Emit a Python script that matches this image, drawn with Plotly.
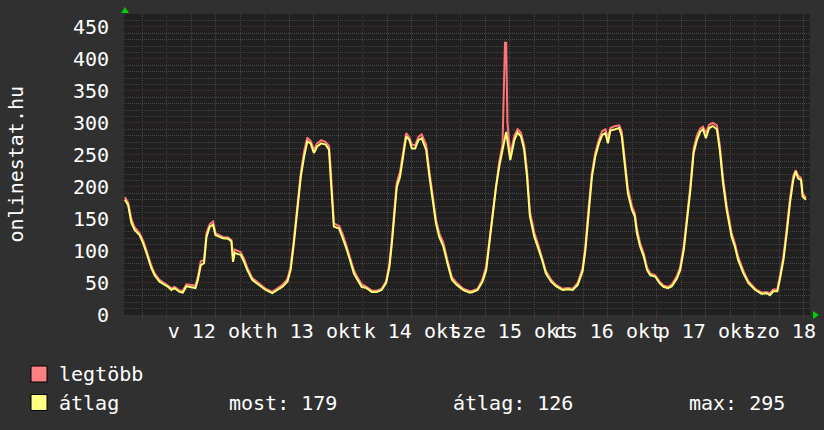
import pandas as pd
import plotly.graph_objects as go

# ---------------- data ----------------
start_time = "2008-10-11 13:30"
span_hours = 168

hours = [0.2, 1.0, 1.8, 2.6, 3.8, 4.7, 5.5, 6.7, 7.5, 8.7, 10.0, 10.8, 11.6, 12.4, 13.6, 14.4,
         15.3, 16.5, 17.5, 18.1, 18.8, 19.6, 20.2, 21.0, 21.8, 22.4, 23.4, 24.2, 25.5, 26.3, 26.7,
         27.1, 27.9, 28.6, 29.4, 30.2, 31.4, 33.1, 34.7, 36.3, 37.5, 38.8, 40.0, 40.8, 41.6, 42.4,
         43.3, 44.1, 44.9, 45.7, 46.5, 47.3, 48.3, 49.4, 50.2, 50.6, 51.4, 52.7, 53.5, 54.3, 55.1,
         56.3, 57.0, 58.2, 59.4, 60.7, 61.9, 63.1, 64.2, 65.0, 65.6, 66.1, 66.8, 67.6, 68.3, 69.1,
         69.9, 70.5, 71.3, 72.1, 72.9, 74.0, 74.8, 75.6, 76.4, 77.2, 78.2, 79.2, 80.3, 81.5, 83.1,
         84.7, 85.4, 86.6, 87.8, 88.7, 89.5, 90.3, 91.1, 91.9, 92.7, 93.0, 93.3, 93.6, 93.9, 94.6,
         95.6, 96.4, 97.2, 98.0, 98.7, 99.4, 100.5, 101.3, 102.4, 103.3, 104.6, 105.8, 107.4, 108.7,
         109.9, 111.1, 112.3, 113.0, 113.8, 114.6, 115.4, 116.3, 117.1, 117.9, 118.5, 119.1, 120.3,
         121.3, 121.9, 122.6, 123.4, 124.4, 125.1, 125.6, 126.4, 127.3, 128.1, 128.9, 130.1, 131.1,
         132.1, 133.2, 134.2, 135.4, 136.2, 137.1, 137.9, 138.7, 139.5, 140.3, 141.1, 141.8, 142.5,
         143.3, 144.2, 145.2, 145.9, 146.7, 147.6, 148.8, 149.6, 150.4, 151.7, 152.9, 154.6, 156.2,
         157.4, 158.2, 159.0, 160.0, 160.6, 161.5, 162.3, 163.1, 163.9, 164.5, 165.1, 165.8, 166.2,
         167.0]

atlag = [180, 172, 144, 133, 125, 112, 97, 73, 62, 52, 47, 44, 39, 42, 36, 35,
         45, 44, 42, 55, 78, 81, 122, 138, 141, 125, 122, 120, 119, 115, 83,
         97, 95, 94, 83, 70, 55, 47, 39, 34, 39, 44, 52, 70, 112, 164,
         216, 247, 271, 268, 253, 263, 268, 266, 258, 216, 138, 135, 122, 107, 91,
         65, 57, 44, 42, 36, 36, 39, 50, 75, 112, 154, 200, 216, 247, 279,
         273, 260, 260, 273, 276, 258, 216, 175, 143, 122, 107, 81, 55, 47, 39,
         35, 36, 39, 52, 70, 112, 154, 200, 232, 258, 270, 280, 286, 272, 242,
         273, 285, 279, 258, 216, 154, 122, 107, 86, 65, 52, 45, 39, 40,
         39, 47, 68, 102, 164, 216, 247, 268, 281, 284, 268, 288, 290,
         292, 279, 237, 190, 164, 154, 128, 107, 91, 70, 62, 60, 50,
         44, 42, 45, 57, 70, 102, 148, 195, 253, 273, 286, 290, 276,
         292, 295, 290, 258, 206, 164, 122, 107, 86, 65, 50, 39, 33,
         34, 31, 37, 37, 55, 86, 128, 175, 211, 224, 213, 211, 185,
         180]

legtobb = [184, 176, 150, 137, 128, 116, 101, 77, 65, 55, 49, 46, 42, 44, 38, 38,
           48, 47, 46, 60, 84, 86, 128, 142, 146, 128, 124, 122, 121, 117, 92,
           102, 100, 98, 88, 74, 58, 49, 41, 36, 41, 47, 56, 75, 118, 170,
           222, 255, 277, 272, 258, 268, 273, 270, 264, 230, 143, 139, 127, 112, 96,
           70, 61, 48, 44, 38, 38, 41, 53, 80, 118, 160, 207, 224, 255, 284,
           277, 266, 265, 278, 282, 266, 224, 182, 149, 128, 113, 86, 59, 50, 41,
           37, 38, 41, 56, 76, 118, 162, 207, 240, 266, 340, 425, 425, 300, 250,
           280, 290, 285, 265, 225, 162, 128, 113, 90, 69, 55, 47, 41, 42,
           41, 50, 73, 108, 170, 222, 253, 274, 287, 290, 276, 292, 295,
           296, 286, 245, 198, 170, 159, 135, 112, 96, 74, 65, 62, 53,
           46, 44, 48, 61, 75, 108, 155, 202, 260, 280, 291, 294, 284,
           297, 300, 296, 266, 214, 171, 128, 112, 91, 69, 53, 41, 35,
           36, 34, 40, 40, 60, 92, 135, 182, 217, 226, 218, 214, 190,
           183]

day_dates = ["2008-10-12", "2008-10-13", "2008-10-14", "2008-10-15",
             "2008-10-16", "2008-10-17", "2008-10-18"]
day_labels = ["v 12 okt", "h 13 okt", "k 14 okt", "sze 15 okt",
              "cs 16 okt", "p 17 okt", "szo 18 okt"]

series_names = ["legtöbb", "átlag"]
stat_most = 179
stat_atlag = 126
stat_max = 295
y_title = "onlinestat.hu"

# ---------------- figure ----------------
W, H = 824, 430
L, R, T, B = 124, 14, 14, 115
PW, PH = W - L - R, H - T - B


def px(x):
    return (x - L) / PW


def py(y):
    return (H - B - y) / PH


t0 = pd.Timestamp(start_time)
t_end = t0 + pd.Timedelta(hours=span_hours)
times = t0 + pd.to_timedelta(hours, unit="h")
midnights = pd.to_datetime(day_dates)
noons = midnights + pd.Timedelta(hours=12)

RED = "#ff7474"
YEL = "#ffff74"
MAJ = "#583030"
MIN = "#444444"
BG = "#303030"
FONT = "DejaVu Sans Mono"

fig = go.Figure()
fig.add_trace(go.Scatter(x=times, y=legtobb, mode="lines", name=series_names[0],
                         line=dict(color=RED, width=2), hoverinfo="skip"))
fig.add_trace(go.Scatter(x=times, y=atlag, mode="lines", name=series_names[1],
                         line=dict(color=YEL, width=2), hoverinfo="skip"))
fig.add_trace(go.Scatter(x=noons, y=[None] * len(noons), xaxis="x2", yaxis="y",
                         mode="lines", showlegend=False, hoverinfo="skip"))

fig.update_layout(
    width=W, height=H,
    margin=dict(l=L, r=R, t=T, b=B),
    paper_bgcolor=BG,
    plot_bgcolor="#202020",
    font=dict(family=FONT, color="white", size=20),
    showlegend=False,
    xaxis=dict(
        type="date", range=[t0, t_end], tickmode="array", tickvals=midnights,
        showticklabels=False, showgrid=True, gridcolor=MAJ, griddash="1px,1px",
        gridwidth=1, ticks="outside", ticklen=3, tickcolor=MAJ, zeroline=False,
        showline=False, automargin=False,
        minor=dict(tick0=midnights[0], dtick=6 * 3600 * 1000, showgrid=True,
                   gridcolor=MIN, griddash="1px,1px", ticks="outside", ticklen=2,
                   tickcolor=MIN),
    ),
    xaxis2=dict(
        type="date", range=[t0, t_end], overlaying="x", anchor="y", side="bottom",
        tickmode="array", tickvals=noons, ticktext=day_labels, tickangle=0,
        showgrid=False, zeroline=False, ticks="", automargin=False,
        ticklabeloverflow="allow",
        tickfont=dict(family=FONT, size=20, color="white"), ticklabelstandoff=2,
    ),
    yaxis=dict(
        range=[0, 470], tickmode="linear", tick0=0, dtick=50, showgrid=True,
        gridcolor=MAJ, griddash="1px,1px", zeroline=False, ticks="", automargin=False,
        tickfont=dict(family=FONT, size=20, color="white"), ticklabelstandoff=14,
        minor=dict(dtick=10, showgrid=True, gridcolor=MIN, griddash="1px,1px"),
    ),
)

# y title
fig.add_annotation(text=y_title, xref="paper", yref="paper", x=px(15), y=0.5,
                   xanchor="center", yanchor="middle", textangle=-90, showarrow=False,
                   font=dict(family=FONT, size=20, color="white"))

# legend squares + texts
for i, (name, col) in enumerate(zip(series_names, ["#ff8080", "#ffff80"])):
    yc = 374 + i * 28.5
    fig.add_shape(type="rect", xref="paper", yref="paper",
                  x0=px(31), x1=px(47), y0=py(yc - 8), y1=py(yc + 8),
                  fillcolor=col, line=dict(color="black", width=1))
    fig.add_annotation(text=name, xref="paper", yref="paper", x=px(57), y=py(yc),
                       xanchor="left", yanchor="middle", showarrow=False,
                       font=dict(family=FONT, size=20, color="white"))

for txt, xl in [(f"most: {stat_most}", 227), (f"átlag: {stat_atlag}", 451),
                (f"max: {stat_max}", 687)]:
    fig.add_annotation(text=txt, xref="paper", yref="paper", x=px(xl), y=py(402.5),
                       xanchor="left", yanchor="middle", showarrow=False,
                       font=dict(family=FONT, size=20, color="white"))

# green axis arrows
fig.add_shape(type="path", xref="paper", yref="paper",
              path=f"M {px(125)},{py(7)} L {px(121)},{py(13)} L {px(129)},{py(13)} Z",
              fillcolor="#00d000", line=dict(color="#00d000", width=0))
fig.add_shape(type="path", xref="paper", yref="paper",
              path=f"M {px(819)},{py(315)} L {px(813)},{py(311)} L {px(813)},{py(319)} Z",
              fillcolor="#00d000", line=dict(color="#00d000", width=0))

fig.write_html(
    "out.html",
    config={"displayModeBar": False},
    post_script=f"document.body.style.margin='0px';document.body.style.background='{BG}';document.body.style.overflow='hidden';",
)
